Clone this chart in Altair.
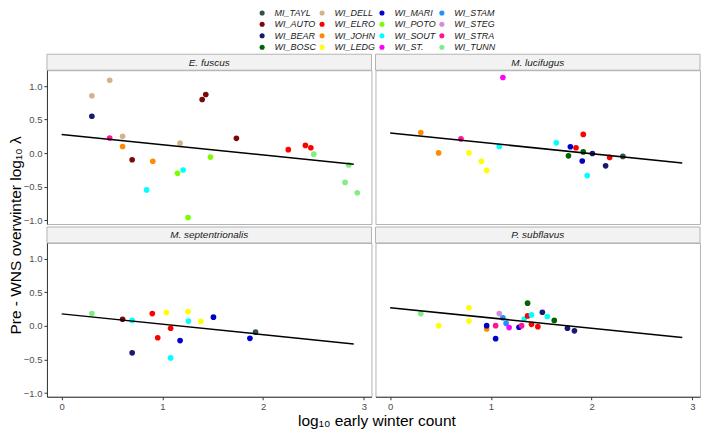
import altair as alt
import pandas as pd

# ---- sites and colours (legend fills column by column, as in the reference) ----
site_names = ["MI_TAYL", "WI_AUTO", "WI_BEAR", "WI_BOSC",
              "WI_DELL", "WI_ELRO", "WI_JOHN", "WI_LEDG",
              "WI_MARI", "WI_POTO", "WI_SOUT", "WI_ST.",
              "WI_STAM", "WI_STEG", "WI_STRA", "WI_TUNN"]
site_colors = ["#2F4F4F", "#7A0A0A", "#191970", "#006400",
               "#D2B48C", "#FF0000", "#FF8C00", "#FFFF00",
               "#0000CD", "#7CFC00", "#00FFFF", "#FF00FF",
               "#1E90FF", "#D88BD8", "#FF1493", "#80EE80"]

species = ["E. fuscus", "M. lucifugus", "M. septentrionalis", "P. subflavus"]

# ---- E. fuscus ----
fuscus_x = [0.30, 0.477, 0.30, 0.477, 0.605, 0.605, 0.70, 0.905, 0.843, 1.15, 1.206, 1.255,
            1.176, 1.477, 1.395, 1.431, 1.735, 2.25, 2.42, 2.474, 2.503, 2.85, 2.814, 2.935]
fuscus_y = [0.855, 1.087, 0.55, 0.227, 0.251, 0.10, -0.097, -0.12, -0.546, -0.30, -0.25, -0.957,
            0.15, -0.058, 0.80, 0.874, 0.222, 0.053, 0.116, 0.082, -0.014, -0.174, -0.435, -0.589]
fuscus_site = ["WI_DELL", "WI_DELL", "WI_BEAR", "WI_STRA", "WI_DELL", "WI_JOHN", "WI_AUTO", "WI_JOHN",
               "WI_SOUT", "WI_POTO", "WI_SOUT", "WI_POTO", "WI_DELL", "WI_POTO", "WI_AUTO", "WI_AUTO",
               "WI_AUTO", "WI_ELRO", "WI_ELRO", "WI_ELRO", "WI_TUNN", "WI_TUNN", "WI_TUNN", "WI_TUNN"]

# ---- M. lucifugus ----
lucifugus_x = [1.119, 0.304, 0.481, 0.703, 0.782, 1.083, 0.906, 0.958, 1.649, 1.789,
               1.845, 1.917, 1.77, 1.917, 2.008, 1.907, 1.956, 2.139, 2.179, 2.31]
lucifugus_y = [1.128, 0.309, 0.005, 0.213, 0.005, 0.101, -0.121, -0.256, 0.155, 0.097,
               0.082, 0.28, -0.039, 0.019, -0.005, -0.116, -0.333, -0.188, -0.063, -0.048]
lucifugus_site = ["WI_ST.", "WI_JOHN", "WI_JOHN", "WI_STRA", "WI_LEDG", "WI_SOUT", "WI_LEDG",
                  "WI_LEDG", "WI_SOUT", "WI_MARI", "WI_ELRO", "WI_ELRO", "WI_BOSC", "WI_BOSC",
                  "WI_BEAR", "WI_MARI", "WI_SOUT", "WI_BEAR", "WI_ELRO", "MI_TAYL"]

# ---- M. septentrionalis ----
sept_x = [0.30, 0.605, 0.70, 0.70, 0.90, 0.954, 1.04, 1.082, 1.176, 1.082, 1.255, 1.258,
          1.382, 1.507, 1.869, 1.925]
sept_y = [0.184, 0.10, 0.083, -0.40, 0.184, -0.175, 0.20, -0.034, -0.218, -0.476, 0.214, 0.073,
          0.068, 0.131, -0.184, -0.092]
sept_site = ["WI_TUNN", "WI_AUTO", "WI_SOUT", "WI_BEAR", "WI_ELRO", "WI_ELRO", "WI_LEDG", "WI_ELRO",
             "WI_MARI", "WI_SOUT", "WI_LEDG", "WI_SOUT", "WI_LEDG", "WI_MARI", "WI_MARI", "MI_TAYL"]

# ---- P. subflavus ----
subfl_x = [0.304, 0.481, 0.782, 0.782, 0.958, 0.958, 1.047, 1.047, 1.083, 1.119, 1.151, 1.181,
           1.279, 1.305, 1.331, 1.364, 1.364, 1.403, 1.403, 1.466, 1.511, 1.56, 1.629, 1.76, 1.829]
subfl_y = [0.184, 0.005, 0.272, 0.073, -0.044, 0.005, -0.189, 0.005, 0.184, 0.121, 0.039, -0.024,
           -0.019, 0.005, 0.102, 0.15, 0.34, 0.165, 0.024, -0.01, 0.204, 0.141, 0.083, -0.034, -0.073]
subfl_site = ["WI_TUNN", "WI_LEDG", "WI_LEDG", "WI_LEDG", "WI_JOHN", "WI_MARI", "WI_MARI", "WI_STRA",
              "WI_STEG", "WI_STAM", "WI_STAM", "WI_ST.", "WI_MARI", "WI_STRA", "WI_SOUT", "WI_ELRO",
              "WI_BOSC", "WI_SOUT", "WI_ELRO", "WI_ELRO", "WI_BEAR", "WI_SOUT", "WI_BOSC", "WI_BEAR",
              "WI_BEAR"]

# ---- fitted lines (endpoints) ----
line_x = [0.0, 2.9]
fuscus_line = [0.28, -0.164]
lucifugus_line = [0.30, -0.145]
sept_line = [0.18, -0.267]
subfl_line = [0.272, -0.17]

x_ticks = [0, 1, 2, 3]
y_ticks = [-1.0, -0.5, 0.0, 0.5, 1.0]
X_DOMAIN = [-0.146, 3.076]
Y_DOMAIN = [-1.054, 1.236]

Y_TITLE = "Pre - WNS overwinter log\u2081\u2080 \u03bb"
X_TITLE = "log\u2081\u2080 early winter count"

W, H = 325, 154
GAP = 3
STRIP_H = 16

color = alt.Color(
    "site:N",
    scale=alt.Scale(domain=site_names, range=site_colors),
    legend=alt.Legend(
        title=None, orient="none", legendX=211, legendY=-43, columns=4,
        gridAlign="all", columnPadding=1, rowPadding=1.5, padding=0,
        labelFontSize=9, labelFontStyle="italic", labelColor="#1a1a1a",
        labelOffset=8, symbolType="circle", symbolSize=26, symbolStrokeWidth=0,
        symbolOpacity=1,
    ),
)


def strip(name):
    df = pd.DataFrame({"sp": [name]})
    box = alt.Chart(df).mark_rect(fill="#f2f2f2", stroke="#b3b3b3", strokeWidth=1).encode(
        x=alt.value(0), x2=alt.value(W), y=alt.value(GAP), y2=alt.value(GAP + STRIP_H)
    )
    txt = alt.Chart(df).mark_text(
        fontStyle="italic", fontSize=10, color="#1a1a1a", align="center", baseline="middle"
    ).encode(
        text="sp:N", x=alt.value(W / 2), y=alt.value(GAP + STRIP_H / 2 + 0.5)
    )
    return alt.layer(box, txt).properties(
        width=W, height=GAP + STRIP_H, view=alt.ViewBackground(strokeOpacity=0)
    )


def plot(xs, ys, sites, ly, left, bottom, y_title=False, x_title=False):
    pts = pd.DataFrame({"x": xs, "y": ys, "site": sites})
    lin = pd.DataFrame({"x": line_x, "y": ly})

    if bottom:
        if x_title:
            xaxis = alt.Axis(values=x_ticks, tickCount=len(x_ticks), format="d", title=X_TITLE,
                             titleX=330, titleY=29, titleAlign="center",
                             titleBaseline="alphabetic", labelOverlap=False)
        else:
            xaxis = alt.Axis(values=x_ticks, tickCount=len(x_ticks), format="d", title=None,
                             labelOverlap=False)
    else:
        xaxis = None
    if left:
        if y_title:
            yaxis = alt.Axis(values=y_ticks, tickCount=len(y_ticks), format=".1f", title=Y_TITLE,
                             titleX=-31, titleY=165, titleAngle=270, titleAlign="center",
                             titleBaseline="middle", labelOverlap=False)
        else:
            yaxis = alt.Axis(values=y_ticks, tickCount=len(y_ticks), format=".1f", title=None,
                             labelOverlap=False)
    else:
        yaxis = None

    xenc = alt.X("x:Q", scale=alt.Scale(domain=X_DOMAIN, nice=False, zero=False), axis=xaxis)
    yenc = alt.Y("y:Q", scale=alt.Scale(domain=Y_DOMAIN, nice=False, zero=False), axis=yaxis)

    points = alt.Chart(pts).mark_circle(size=32, opacity=1).encode(x=xenc, y=yenc, color=color)
    line = alt.Chart(lin).mark_line(color="black", strokeWidth=1.5).encode(x="x:Q", y="y:Q")
    return alt.layer(points, line).properties(width=W, height=H)


cells = [
    strip(species[0]), strip(species[1]),
    plot(fuscus_x, fuscus_y, fuscus_site, fuscus_line, True, False, y_title=True),
    plot(lucifugus_x, lucifugus_y, lucifugus_site, lucifugus_line, False, False),
    strip(species[2]), strip(species[3]),
    plot(sept_x, sept_y, sept_site, sept_line, True, True, x_title=True),
    plot(subfl_x, subfl_y, subfl_site, subfl_line, False, True),
]

chart = alt.concat(
    *cells, columns=2, spacing=alt.RowColnumber(row=0, column=4), bounds="flush", align="each"
).properties(
    padding=0
).configure(
    font="Liberation Sans"
).configure_view(
    stroke="#b3b3b3", strokeWidth=1
).configure_axis(
    grid=False, domainColor="#333333", tickColor="#333333", tickSize=3,
    labelColor="#4d4d4d", labelFontSize=9.5, labelPadding=2,
    titleFontWeight="normal", titleColor="#000000", titleFontSize=15.5,
)

chart.save("out.html", embed_options={"renderer": "svg", "actions": False})
